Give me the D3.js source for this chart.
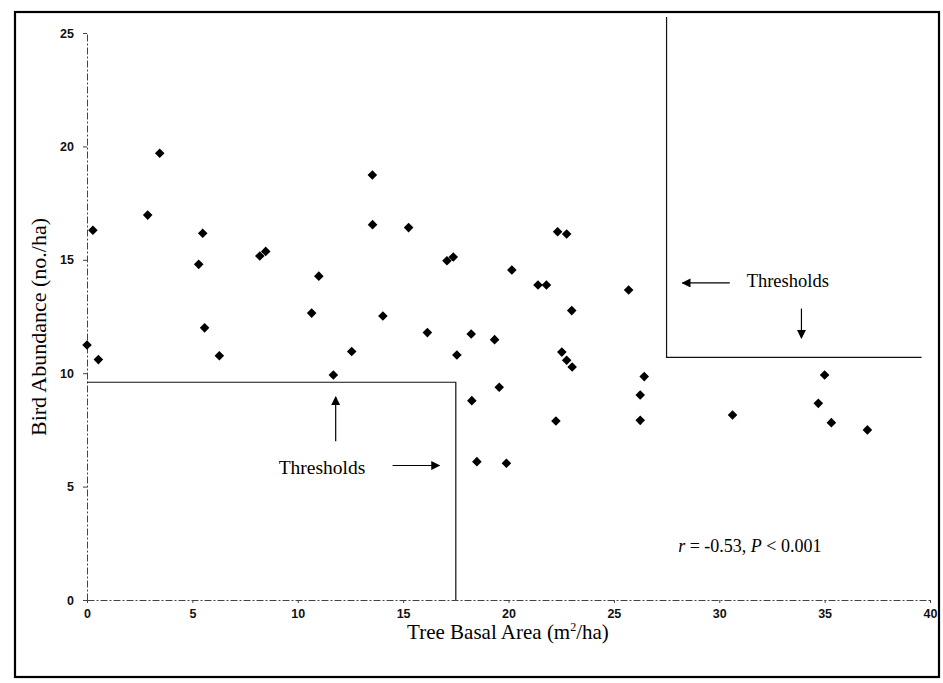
<!DOCTYPE html>
<html>
<head>
<meta charset="utf-8">
<script src="https://cdn.jsdelivr.net/npm/d3@7"></script>
<style>
  html, body { margin: 0; padding: 0; background: #fff; }
  svg { display: block; }
</style>
</head>
<body>
<svg id="chart" width="943" height="683"></svg>
<script>
// ---- data ----
const basalArea = [0, 0.28, 0.54, 2.88, 3.45, 5.3, 5.49, 5.58, 6.28, 8.2, 8.48, 10.66, 11.0, 12.56,
  13.54, 13.55, 14.04, 15.26, 16.15, 17.08, 17.38, 17.55, 18.23, 19.34, 20.16, 21.4, 21.8, 22.33,
  22.76, 23.0, 22.53, 22.76, 23.02, 11.69, 18.26, 19.56, 22.25, 18.5, 19.9, 25.7, 26.44, 26.25,
  26.25, 30.63, 35.0, 34.7, 35.32, 37.03];
const birdAbundance = [11.24, 16.3, 10.6, 16.97, 19.7, 14.8, 16.17, 12.0, 10.77, 15.17, 15.37, 12.65,
  14.28, 10.96, 18.74, 16.55, 12.52, 16.42, 11.79, 14.96, 15.12, 10.8, 11.73, 11.48, 14.55, 13.89,
  13.89, 16.24, 16.14, 12.76, 10.93, 10.57, 10.27, 9.92, 8.79, 9.38, 7.89, 6.1, 6.03, 13.67, 9.85,
  9.04, 7.92, 8.16, 9.92, 8.67, 7.82, 7.5];
const xTicks = [0, 5, 10, 15, 20, 25, 30, 35, 40];
const yTicks = [0, 5, 10, 15, 20, 25];
const threshLow = { x: 17.5, y: 9.6 };
const threshHigh = { x: 27.5, y: 10.7, xEnd: 39.6, yTop: 25.7 };
const xLabel = "Tree Basal Area (m";
const yLabel = "Bird Abundance (no./ha)";
const statText = { r: "-0.53", p: "0.001" };

// ---- chart ----
const svg = d3.select("#chart");
const x = d3.scaleLinear().domain([0, 40]).range([87, 930]);
const y = d3.scaleLinear().domain([0, 25]).range([600, 33]);

// outer frame
svg.append("rect").attr("x", 15).attr("y", 12).attr("width", 924).attr("height", 665)
  .attr("fill", "none").attr("stroke", "#000").attr("stroke-width", 2.2);

const axisStyle = g => {
  g.select(".domain").attr("stroke", "#444").attr("stroke-width", 1).attr("stroke-dasharray", "7,2,2,2");
  g.selectAll(".tick line").attr("stroke", "#444");
  g.selectAll(".tick text").attr("font-family", "'Liberation Sans', Arial, sans-serif")
    .attr("font-size", 12.5).attr("font-weight", "bold").attr("fill", "#111");
};

svg.append("g").attr("transform", `translate(0,${y(0)})`)
  .call(d3.axisBottom(x).tickValues(xTicks).tickSize(3).tickSizeOuter(0).tickPadding(6))
  .call(axisStyle);

svg.append("g").attr("transform", `translate(${x(0)},0)`)
  .call(d3.axisLeft(y).tickValues(yTicks).tickSize(4).tickSizeOuter(0).tickPadding(9))
  .call(axisStyle);

// threshold boxes
const line = d3.line().x(d => x(d[0])).y(d => y(d[1]));
svg.append("path")
  .attr("d", line([[0, threshLow.y], [threshLow.x, threshLow.y], [threshLow.x, 0]]))
  .attr("fill", "none").attr("stroke", "#111").attr("stroke-width", 1.2);
svg.append("path")
  .attr("d", line([[threshHigh.x, threshHigh.yTop], [threshHigh.x, threshHigh.y], [threshHigh.xEnd, threshHigh.y]]))
  .attr("fill", "none").attr("stroke", "#111").attr("stroke-width", 1.2);

// arrow marker
svg.append("defs").append("marker")
  .attr("id", "ah").attr("viewBox", "0 0 10 10").attr("refX", 9).attr("refY", 5)
  .attr("markerWidth", 11).attr("markerHeight", 9).attr("markerUnits", "userSpaceOnUse")
  .attr("orient", "auto")
  .append("path").attr("d", "M0,0 L10,5 L0,10 Z").attr("fill", "#000");

const arrows = [
  [[14.5, 5.93], [16.72, 5.93]],   // lower right arrow
  [[11.8, 7.0], [11.8, 8.95]],     // lower up arrow
  [[30.5, 13.98], [28.25, 13.98]], // upper left arrow
  [[33.9, 12.85], [33.9, 11.55]]   // upper down arrow
];
arrows.forEach(a => {
  svg.append("line")
    .attr("x1", x(a[0][0])).attr("y1", y(a[0][1]))
    .attr("x2", x(a[1][0])).attr("y2", y(a[1][1]))
    .attr("stroke", "#000").attr("stroke-width", 1.2).attr("marker-end", "url(#ah)");
});

const serif = "'Liberation Serif', 'Times New Roman', serif";
svg.append("text").attr("x", x(11.15)).attr("y", y(5.86)).attr("dy", "0.35em")
  .attr("text-anchor", "middle").attr("font-family", serif).attr("font-size", 19.5).text("Thresholds");
svg.append("text").attr("x", x(33.25)).attr("y", y(14.08)).attr("dy", "0.35em")
  .attr("text-anchor", "middle").attr("font-family", serif).attr("font-size", 18.5).text("Thresholds");

// stat annotation
const st = svg.append("text").attr("x", x(28.05)).attr("y", y(2.1))
  .attr("font-family", serif).attr("font-size", 18);
st.append("tspan").attr("font-style", "italic").text("r");
st.append("tspan").text(` = ${statText.r}, `);
st.append("tspan").attr("font-style", "italic").text("P");
st.append("tspan").text(` < ${statText.p}`);

// axis titles
const xt = svg.append("text").attr("x", 508).attr("y", 639).attr("text-anchor", "middle")
  .attr("font-family", serif).attr("font-size", 21);
xt.append("tspan").text(xLabel);
xt.append("tspan").attr("font-size", 12).attr("dy", -8).text("2");
xt.append("tspan").attr("dy", 8).text("/ha)");

svg.append("text").attr("transform", "translate(46,327) rotate(-90)")
  .attr("text-anchor", "middle").attr("font-family", serif).attr("font-size", 22).text(yLabel);

// points
const pts = basalArea.map((v, i) => [v, birdAbundance[i]]);
svg.append("g").selectAll("path").data(pts).join("path")
  .attr("d", d3.symbol(d3.symbolSquare, 46))
  .attr("transform", d => `translate(${x(d[0])},${y(d[1])}) rotate(45)`)
  .attr("fill", "#000");
</script>
</body>
</html>
